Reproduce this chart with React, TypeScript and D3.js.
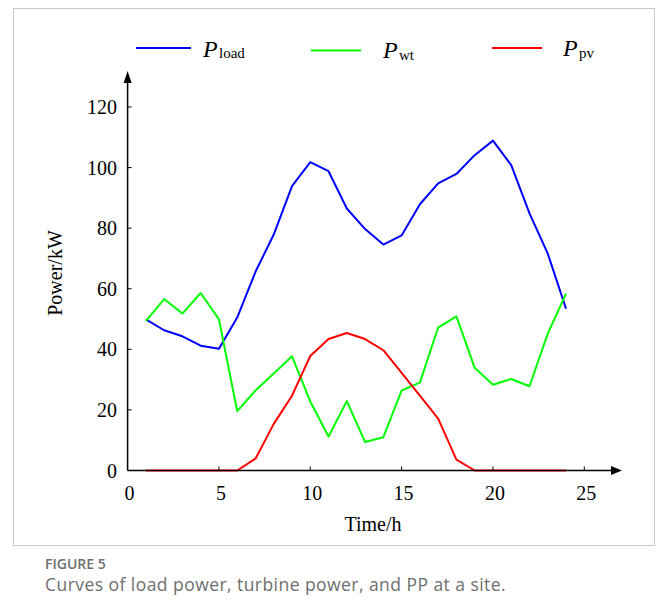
import React from "react";
import * as d3 from "d3";

const hours = [1,2,3,4,5,6,7,8,9,10,11,12,13,14,15,16,17,18,19,20,21,22,23,24];
const pLoad = [49.9,46.3,44.3,41.2,40.2,50.5,65.6,77.9,93.9,101.8,98.8,86.5,79.7,74.6,77.6,87.9,94.8,97.9,104.1,108.9,100.8,84.9,71.6,53.4];
const pWt = [49.3,56.6,51.8,58.6,49.9,19.6,26.4,32.0,37.7,22.8,11.2,22.9,9.4,11.0,26.4,29.0,47.2,50.9,33.9,28.3,30.2,27.8,45.2,58.4];
const pPv = [0,0,0,0,0,0,3.9,15.4,24.7,37.8,43.4,45.4,43.4,39.7,32.2,24.7,17.1,3.6,0,0,0,0,0,0];
const xTicks = [0,5,10,15,20,25];
const yTicks = [0,20,40,60,80,100,120];

const serif = "'Liberation Serif', 'Times New Roman', serif";

export default function App() {
  const x = d3.scaleLinear().domain([0, 25]).range([127.6, 584.3]);
  const y = d3.scaleLinear().domain([0, 120]).range([470.5, 107]);
  const line = (vals: number[]) =>
    d3.line<number>().x((_, i) => x(hours[i])).y((v) => y(v))(vals) || "";
  const series = [
    { vals: pLoad, color: "#0000ff" },
    { vals: pWt, color: "#00ff00" },
    { vals: pPv, color: "#ff0000" },
  ];
  const legend = [
    { color: "#0000ff", x1: 136, x2: 191, ly: 48, tx: 203, ty: 56.5, sub: "load", subty: 57.5 },
    { color: "#00ff00", x1: 311, x2: 361, ly: 50.5, tx: 383, ty: 57.5, sub: "wt", subty: 60 },
    { color: "#ff0000", x1: 492, x2: 542, ly: 48, tx: 563, ty: 55.5, sub: "pv", subty: 58 },
  ];
  const x0 = x(0);
  const y0 = y(0);
  return (
    <svg width={656} height={615} style={{ position: "absolute", left: 0, top: 0, background: "#fff" }}>
      <rect x={13.5} y={8.5} width={641} height={537} fill="#fff" stroke="#c8c8c8" strokeWidth={1} />
      {legend.map((l, i) => (
        <g key={i}>
          <line x1={l.x1} x2={l.x2} y1={l.ly} y2={l.ly} stroke={l.color} strokeWidth={2} />
          <text x={l.tx} y={l.ty} fontFamily={serif} fontStyle="italic" fontSize={24} fill="#000">P</text>
          <text x={l.tx + 16} y={l.subty} fontFamily={serif} fontSize={15} fill="#000">{l.sub}</text>
        </g>
      ))}
      {series.map((s, i) => (
        <path key={i} d={line(s.vals)} fill="none" stroke={s.color} strokeWidth={2} strokeLinejoin="round" />
      ))}
      <line x1={x0} x2={x0} y1={y0} y2={82} stroke="#000" strokeWidth={1.5} />
      <path d={`M${x0 - 4},${83} L${x0},${71} L${x0 + 4},${83} Z`} fill="#000" />
      <line x1={x0} x2={612} y1={y0} y2={y0} stroke="#000" strokeWidth={1.5} />
      <path d={`M${611},${y0 - 4.5} L${622},${y0} L${611},${y0 + 4.5} Z`} fill="#000" />
      {yTicks.map((t) => (
        <g key={"y" + t}>
          <line x1={x0} x2={x0 + 4} y1={y(t)} y2={y(t)} stroke="#000" strokeWidth={1} />
          <text x={117} y={y(t)} dy="0.35em" textAnchor="end" fontFamily={serif} fontSize={20} fill="#000">{t}</text>
        </g>
      ))}
      {xTicks.map((t) => (
        <g key={"x" + t}>
          {t > 0 && <line x1={x(t)} x2={x(t)} y1={y0} y2={y0 - 4} stroke="#000" strokeWidth={1} />}
          <text x={x(t) + 2} y={500} textAnchor="middle" fontFamily={serif} fontSize={20} fill="#000">{t}</text>
        </g>
      ))}
      <text x={373} y={531} textAnchor="middle" fontFamily={serif} fontSize={20} fill="#000">Time/h</text>
      <text transform={`translate(62,273) rotate(-90)`} textAnchor="middle" fontFamily={serif} fontSize={20} fill="#000">Power/kW</text>
      <text x={45} y={568.5} fontFamily="'Open Sans', sans-serif" fontWeight={600} fontSize={14} fill="#6e6e6e">FIGURE 5</text>
      <text x={45} y={591} fontFamily="'Open Sans', sans-serif" fontSize={17.5} letterSpacing={0.45} fill="#6e6e6e">Curves of load power, turbine power, and PP at a site.</text>
    </svg>
  );
}
